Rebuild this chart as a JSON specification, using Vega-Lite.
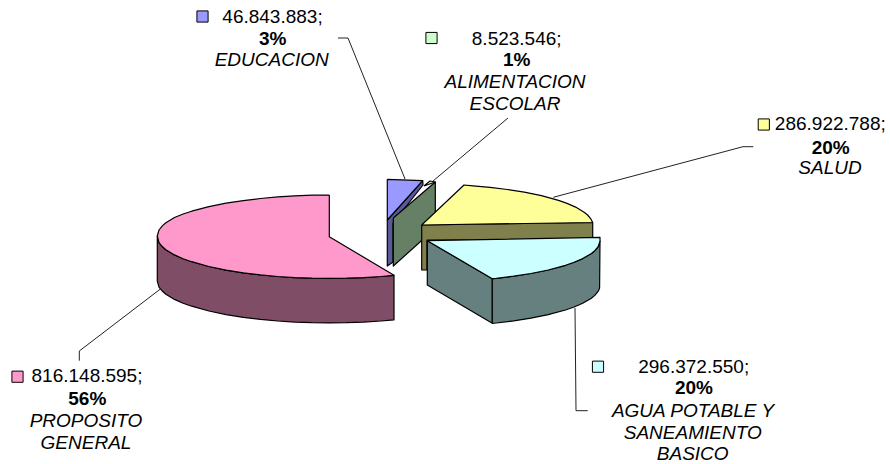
{
"$schema":"https://vega.github.io/schema/vega-lite/v6.json",
"width":890,"height":464,"padding":0,
"autosize":{"type":"fit","contains":"padding"},
"background":"white",
"view":{"stroke":null},
"datasets":{
"faces":[
{"face":"propósito lado","n":1,"x":157.3,"y":236},{"face":"propósito lado","n":2,"x":159,"y":242.6},{"face":"propósito lado","n":3,"x":162.5,"y":246.8},{"face":"propósito lado","n":4,"x":165.9,"y":249.7},{"face":"propósito lado","n":5,"x":174.5,"y":254.9},{"face":"propósito lado","n":6,"x":183.1,"y":258.7},{"face":"propósito lado","n":7,"x":191.7,"y":261.7},{"face":"propósito lado","n":8,"x":208.9,"y":266.5},{"face":"propósito lado","n":9,"x":226.1,"y":270.1},{"face":"propósito lado","n":10,"x":243.3,"y":272.8},{"face":"propósito lado","n":11,"x":260.5,"y":274.9},{"face":"propósito lado","n":12,"x":277.7,"y":276.5},{"face":"propósito lado","n":13,"x":294.9,"y":277.6},{"face":"propósito lado","n":14,"x":312.1,"y":278.2},{"face":"propósito lado","n":15,"x":329.3,"y":278.4},{"face":"propósito lado","n":16,"x":346.5,"y":278.2},{"face":"propósito lado","n":17,"x":363.7,"y":277.6},{"face":"propósito lado","n":18,"x":380.9,"y":276.5},{"face":"propósito lado","n":19,"x":394,"y":275.3},{"face":"propósito lado","n":20,"x":394,"y":319.8},{"face":"propósito lado","n":21,"x":380.9,"y":321},{"face":"propósito lado","n":22,"x":363.7,"y":322.1},{"face":"propósito lado","n":23,"x":346.5,"y":322.7},{"face":"propósito lado","n":24,"x":329.3,"y":322.9},{"face":"propósito lado","n":25,"x":312.1,"y":322.7},{"face":"propósito lado","n":26,"x":294.9,"y":322.1},{"face":"propósito lado","n":27,"x":277.7,"y":321},{"face":"propósito lado","n":28,"x":260.5,"y":319.4},{"face":"propósito lado","n":29,"x":243.3,"y":317.3},{"face":"propósito lado","n":30,"x":226.1,"y":314.6},{"face":"propósito lado","n":31,"x":208.9,"y":311},{"face":"propósito lado","n":32,"x":191.7,"y":306.2},{"face":"propósito lado","n":33,"x":183.1,"y":303.2},{"face":"propósito lado","n":34,"x":174.5,"y":299.4},{"face":"propósito lado","n":35,"x":165.9,"y":294.2},{"face":"propósito lado","n":36,"x":162.5,"y":291.3},{"face":"propósito lado","n":37,"x":159,"y":287.1},{"face":"propósito lado","n":38,"x":157.3,"y":281.2},{"face":"propósito lado","n":39,"x":157.3,"y":236},
{"face":"propósito","n":1,"x":329.3,"y":195},{"face":"propósito","n":2,"x":329.3,"y":236.7},{"face":"propósito","n":3,"x":394,"y":275.3},{"face":"propósito","n":4,"x":380.9,"y":276.5},{"face":"propósito","n":5,"x":363.7,"y":277.6},{"face":"propósito","n":6,"x":346.5,"y":278.2},{"face":"propósito","n":7,"x":329.3,"y":278.4},{"face":"propósito","n":8,"x":312.1,"y":278.2},{"face":"propósito","n":9,"x":294.9,"y":277.6},{"face":"propósito","n":10,"x":277.7,"y":276.5},{"face":"propósito","n":11,"x":260.5,"y":274.9},{"face":"propósito","n":12,"x":243.3,"y":272.8},{"face":"propósito","n":13,"x":226.1,"y":270.1},{"face":"propósito","n":14,"x":208.9,"y":266.5},{"face":"propósito","n":15,"x":191.7,"y":261.7},{"face":"propósito","n":16,"x":183.1,"y":258.7},{"face":"propósito","n":17,"x":174.5,"y":254.9},{"face":"propósito","n":18,"x":165.9,"y":249.7},{"face":"propósito","n":19,"x":162.5,"y":246.8},{"face":"propósito","n":20,"x":159,"y":242.6},{"face":"propósito","n":21,"x":157.3,"y":236},{"face":"propósito","n":22,"x":159,"y":230},{"face":"propósito","n":23,"x":162.5,"y":225.6},{"face":"propósito","n":24,"x":165.9,"y":222.7},{"face":"propósito","n":25,"x":174.5,"y":217.5},{"face":"propósito","n":26,"x":183.1,"y":214},{"face":"propósito","n":27,"x":191.7,"y":211.2},{"face":"propósito","n":28,"x":208.9,"y":206.7},{"face":"propósito","n":29,"x":226.1,"y":203.2},{"face":"propósito","n":30,"x":243.3,"y":200.6},{"face":"propósito","n":31,"x":260.5,"y":198.5},{"face":"propósito","n":32,"x":277.7,"y":196.9},{"face":"propósito","n":33,"x":294.9,"y":195.8},{"face":"propósito","n":34,"x":312.1,"y":195.2},{"face":"propósito","n":35,"x":329.3,"y":195},
{"face":"educación lado","n":1,"x":387.3,"y":220},{"face":"educación lado","n":2,"x":422.7,"y":180.7},{"face":"educación lado","n":3,"x":423,"y":185},{"face":"educación lado","n":4,"x":393,"y":223},{"face":"educación lado","n":5,"x":393,"y":262},{"face":"educación lado","n":6,"x":387.3,"y":266},{"face":"educación lado","n":7,"x":387.3,"y":220},
{"face":"educación","n":1,"x":387.3,"y":179.3},{"face":"educación","n":2,"x":422.7,"y":180.7},{"face":"educación","n":3,"x":387.3,"y":220},{"face":"educación","n":4,"x":387.3,"y":179.3},
{"face":"alimentación","n":1,"x":424,"y":186},{"face":"alimentación","n":2,"x":430,"y":181},{"face":"alimentación","n":3,"x":435.3,"y":182},{"face":"alimentación","n":4,"x":424,"y":186},
{"face":"alimentación lado","n":1,"x":393.3,"y":218},{"face":"alimentación lado","n":2,"x":435.3,"y":182},{"face":"alimentación lado","n":3,"x":435.3,"y":228.3},{"face":"alimentación lado","n":4,"x":393.3,"y":266},{"face":"alimentación lado","n":5,"x":393.3,"y":218},
{"face":"salud lado","n":1,"x":421.7,"y":225},{"face":"salud lado","n":2,"x":592.7,"y":222.5},{"face":"salud lado","n":3,"x":592.7,"y":240},{"face":"salud lado","n":4,"x":427,"y":240},{"face":"salud lado","n":5,"x":427,"y":270},{"face":"salud lado","n":6,"x":421.7,"y":270},{"face":"salud lado","n":7,"x":421.7,"y":225},
{"face":"salud","n":1,"x":421.7,"y":225},{"face":"salud","n":2,"x":464,"y":185},{"face":"salud","n":3,"x":473,"y":185.9},{"face":"salud","n":4,"x":490.1,"y":187.4},{"face":"salud","n":5,"x":507.2,"y":189.5},{"face":"salud","n":6,"x":524.3,"y":192.2},{"face":"salud","n":7,"x":541.4,"y":195.7},{"face":"salud","n":8,"x":558.5,"y":200.4},{"face":"salud","n":9,"x":567,"y":203.4},{"face":"salud","n":10,"x":575.6,"y":207.1},{"face":"salud","n":11,"x":584.1,"y":212.2},{"face":"salud","n":12,"x":587.6,"y":215},{"face":"salud","n":13,"x":591,"y":219.2},{"face":"salud","n":14,"x":592.7,"y":222.5},{"face":"salud","n":15,"x":421.7,"y":225},
{"face":"agua lado izq","n":1,"x":427.3,"y":240.7},{"face":"agua lado izq","n":2,"x":492.3,"y":278.7},{"face":"agua lado izq","n":3,"x":492.3,"y":323.3},{"face":"agua lado izq","n":4,"x":427.3,"y":285},{"face":"agua lado izq","n":5,"x":427.3,"y":240.7},
{"face":"agua lado der","n":1,"x":492.3,"y":278.7},{"face":"agua lado der","n":2,"x":496.4,"y":278.3},{"face":"agua lado der","n":3,"x":513.7,"y":276.2},{"face":"agua lado der","n":4,"x":530.9,"y":273.5},{"face":"agua lado der","n":5,"x":548.2,"y":270},{"face":"agua lado der","n":6,"x":565.5,"y":265.3},{"face":"agua lado der","n":7,"x":574.1,"y":262.3},{"face":"agua lado der","n":8,"x":582.7,"y":258.6},{"face":"agua lado der","n":9,"x":591.4,"y":253.5},{"face":"agua lado der","n":10,"x":594.8,"y":250.7},{"face":"agua lado der","n":11,"x":598.3,"y":246.5},{"face":"agua lado der","n":12,"x":600,"y":241},{"face":"agua lado der","n":13,"x":599.6,"y":288},{"face":"agua lado der","n":14,"x":598.3,"y":291.2},{"face":"agua lado der","n":15,"x":594.8,"y":295.4},{"face":"agua lado der","n":16,"x":591.4,"y":298.2},{"face":"agua lado der","n":17,"x":582.7,"y":303.3},{"face":"agua lado der","n":18,"x":574.1,"y":307},{"face":"agua lado der","n":19,"x":565.5,"y":310},{"face":"agua lado der","n":20,"x":548.2,"y":314.7},{"face":"agua lado der","n":21,"x":530.9,"y":318.2},{"face":"agua lado der","n":22,"x":513.7,"y":320.9},{"face":"agua lado der","n":23,"x":496.4,"y":323},{"face":"agua lado der","n":24,"x":492.3,"y":323.3},{"face":"agua lado der","n":25,"x":492.3,"y":278.7},
{"face":"agua","n":1,"x":427.3,"y":240.7},{"face":"agua","n":2,"x":600,"y":237.3},{"face":"agua","n":3,"x":600,"y":241},{"face":"agua","n":4,"x":598.3,"y":246.5},{"face":"agua","n":5,"x":594.8,"y":250.7},{"face":"agua","n":6,"x":591.4,"y":253.5},{"face":"agua","n":7,"x":582.7,"y":258.6},{"face":"agua","n":8,"x":574.1,"y":262.3},{"face":"agua","n":9,"x":565.5,"y":265.3},{"face":"agua","n":10,"x":548.2,"y":270},{"face":"agua","n":11,"x":530.9,"y":273.5},{"face":"agua","n":12,"x":513.7,"y":276.2},{"face":"agua","n":13,"x":496.4,"y":278.3},{"face":"agua","n":14,"x":492.3,"y":278.7},{"face":"agua","n":15,"x":427.3,"y":240.7}
],
"leaders":[
{"slice":"EDUCACION","n":1,"x":338,"y":38},{"slice":"EDUCACION","n":2,"x":348,"y":38},{"slice":"EDUCACION","n":3,"x":405,"y":179},
{"slice":"ALIMENTACION","n":1,"x":433,"y":181},{"slice":"ALIMENTACION","n":2,"x":508,"y":118},
{"slice":"SALUD","n":1,"x":553.3,"y":197.3},{"slice":"SALUD","n":2,"x":743,"y":146.7},{"slice":"SALUD","n":3,"x":753.3,"y":146.7},
{"slice":"PROPOSITO","n":1,"x":160,"y":289.3},{"slice":"PROPOSITO","n":2,"x":79.3,"y":351},{"slice":"PROPOSITO","n":3,"x":79.3,"y":360.7},
{"slice":"AGUA","n":1,"x":575,"y":308},{"slice":"AGUA","n":2,"x":576,"y":410.7},{"slice":"AGUA","n":3,"x":587.7,"y":410.7}
],
"keys":[
{"slice":"educación","value":46843883,"x":202.5,"y":16.5},
{"slice":"alimentación","value":8523546,"x":431.5,"y":38},
{"slice":"salud","value":286922788,"x":763.8,"y":124.5},
{"slice":"propósito","value":816148595,"x":17.5,"y":376.7},
{"slice":"agua","value":296372550,"x":598,"y":366.7}
],
"labels":[
{"kind":"value","text":"46.843.883;","x":272.5,"y":16.7},{"kind":"pct","text":"3%","x":272.7,"y":39},{"kind":"name","text":"EDUCACION","x":271.7,"y":60},
{"kind":"value","text":"8.523.546;","x":516.7,"y":39},{"kind":"pct","text":"1%","x":516.7,"y":60},{"kind":"name","text":"ALIMENTACION","x":515,"y":81.7},{"kind":"name","text":"ESCOLAR","x":515,"y":104},
{"kind":"value","text":"286.922.788;","x":830.3,"y":124},{"kind":"pct","text":"20%","x":830.7,"y":147.7},{"kind":"name","text":"SALUD","x":830,"y":168},
{"kind":"value","text":"816.148.595;","x":87,"y":376},{"kind":"pct","text":"56%","x":87.3,"y":399.3},{"kind":"name","text":"PROPOSITO","x":86,"y":421},{"kind":"name","text":"GENERAL","x":86,"y":442.7},
{"kind":"value","text":"296.372.550;","x":693.7,"y":366.7},{"kind":"pct","text":"20%","x":694,"y":388},{"kind":"name","text":"AGUA POTABLE Y","x":693,"y":410.7},{"kind":"name","text":"SANEAMIENTO","x":692.7,"y":433},{"kind":"name","text":"BASICO","x":692.7,"y":454}
]
},
"encoding":{
"x":{"field":"x","type":"quantitative","scale":{"domain":[0,890],"nice":false,"zero":false},"axis":null},
"y":{"field":"y","type":"quantitative","scale":{"domain":[464,0],"nice":false,"zero":false},"axis":null}
},
"layer":[
{"data":{"name":"leaders"},
 "mark":{"type":"line","stroke":"#222222","strokeWidth":1,"interpolate":"linear"},
 "encoding":{"detail":{"field":"slice"},"order":{"field":"n","type":"quantitative"}}},
{"data":{"name":"faces"},
 "mark":{"type":"line","stroke":"black","strokeWidth":1.2,"strokeJoin":"round","interpolate":"linear"},
 "encoding":{"detail":{"field":"face"},"order":{"field":"n","type":"quantitative"},
  "fill":{"field":"face","type":"nominal","legend":null,"scale":{
   "domain":["propósito lado","propósito","educación lado","educación","alimentación","alimentación lado","salud lado","salud","agua lado izq","agua lado der","agua"],
   "range":["#804D66","#FF99CC","#5A5A96","#9999FF","#CCFFCC","#668066","#80804D","#FFFF99","#668080","#668080","#CCFFFF"]}}}},
{"data":{"name":"keys"},
 "mark":{"type":"point","shape":"square","filled":true,"size":125,"stroke":"black","strokeWidth":1,"opacity":1},
 "encoding":{"fill":{"field":"slice","type":"nominal","legend":null,"scale":{"domain":["educación","alimentación","salud","propósito","agua"],"range":["#9999FF","#CCFFCC","#FFFF99","#FF99CC","#CCFFFF"]}}}},
{"data":{"name":"labels"},"transform":[{"filter":"datum.kind==='value'"}],
 "mark":{"type":"text","font":"Liberation Sans","fontSize":19,"align":"center","baseline":"middle","fill":"black"},
 "encoding":{"text":{"field":"text"}}},
{"data":{"name":"labels"},"transform":[{"filter":"datum.kind==='pct'"}],
 "mark":{"type":"text","font":"Liberation Sans","fontSize":19,"fontWeight":"bold","align":"center","baseline":"middle","fill":"black"},
 "encoding":{"text":{"field":"text"}}},
{"data":{"name":"labels"},"transform":[{"filter":"datum.kind==='name'"}],
 "mark":{"type":"text","font":"Liberation Sans","fontSize":19,"fontStyle":"italic","align":"center","baseline":"middle","fill":"black"},
 "encoding":{"text":{"field":"text"}}}
]
}
